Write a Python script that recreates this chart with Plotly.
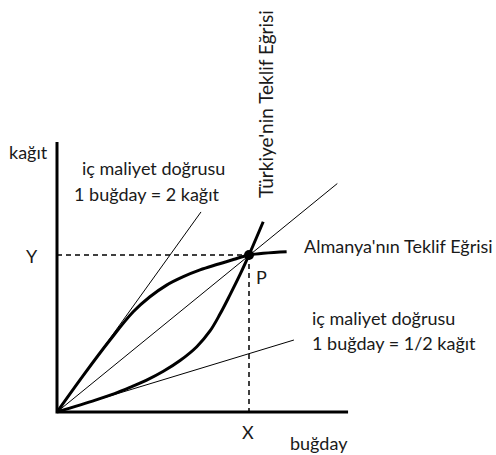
import plotly.graph_objects as go

# offer curves (units: X point = 10)
almanya_x = [0, 1.4, 2.76, 3.97, 4.84, 5.71, 6.58, 7.45, 8.32, 9.18, 10.0, 11.96]
almanya_y = [0, 1.95, 3.75, 5.22, 6.0, 6.61, 7.05, 7.40, 7.68, 7.94, 8.18, 8.35]
turkiye_x = [0, 2.0, 3.0, 3.8, 4.67, 5.54, 6.41, 7.28, 7.97, 8.49, 9.01, 9.53, 10.0, 10.74]
turkiye_y = [0, 0.62, 0.96, 1.28, 1.66, 2.12, 2.68, 3.40, 4.22, 5.10, 6.10, 7.15, 8.18, 9.91]

# straight lines through the origin: end points
steep_line = [(0, 0), (7.5, 10.42)]     # 1 buğday = 2 kağıt
trade_line = [(0, 0), (14.6, 11.9)]     # through P
gentle_line = [(0, 0), (12.34, 3.75)]   # 1 buğday = 1/2 kağıt

# equilibrium point and axes
p_x, p_y = 10.0, 8.18
x_axis_end = 15.16
y_axis_end = 14.06

FONT = "Lato"
TXT = "#1a1a1a"

fig = go.Figure()

def line(pts, width, dash=None):
    xs, ys = zip(*pts)
    fig.add_trace(go.Scatter(x=xs, y=ys, mode="lines",
                             line=dict(color="black", width=width, dash=dash),
                             hoverinfo="skip", showlegend=False))

# thin cost / terms-of-trade lines
line(steep_line, 1)
line(trade_line, 1)
line(gentle_line, 1)

# dashed guides to P
line([(0, p_y), (p_x, p_y)], 1.5, "5px,4px")
line([(p_x, p_y), (p_x, 0)], 1.5, "5px,4px")

# offer curves
fig.add_trace(go.Scatter(x=almanya_x, y=almanya_y, mode="lines",
                         line=dict(color="black", width=3, shape="spline"),
                         hoverinfo="skip", showlegend=False))
fig.add_trace(go.Scatter(x=turkiye_x, y=turkiye_y, mode="lines",
                         line=dict(color="black", width=3, shape="spline"),
                         hoverinfo="skip", showlegend=False))

# axes
line([(0, y_axis_end), (0, 0), (x_axis_end, 0)], 3)

# point P
fig.add_trace(go.Scatter(x=[p_x], y=[p_y], mode="markers",
                         marker=dict(color="black", size=10),
                         hoverinfo="skip", showlegend=False))

labels = [
    ("kağıt", -1.46, 13.54, "center", 0),
    ("iç maliyet doğrusu", 5.0, 12.71, "center", 0),
    ("1 buğday = 2 kağıt", 4.69, 11.35, "center", 0),
    ("Y", -1.30, 8.13, "center", 0),
    ("Türkiye'nin Teklif Eğrisi", 10.83, 16.04, "center", -90),
    ("Almanya'nın Teklif Eğrisi", 12.76, 8.65, "left", 0),
    ("P", 10.63, 7.03, "center", 0),
    ("iç maliyet doğrusu", 13.18, 4.90, "left", 0),
    ("1 buğday = 1/2 kağıt", 13.18, 3.59, "left", 0),
    ("X", 9.95, -1.04, "center", 0),
    ("buğday", 13.65, -1.61, "center", 0),
]
for text, x, y, anchor, angle in labels:
    size = 19 if angle else 18
    fig.add_annotation(x=x, y=y, text=text, showarrow=False, xanchor=anchor,
                       yanchor="middle", textangle=angle,
                       font=dict(family=FONT, size=size, color=TXT))

fig.update_layout(
    width=496, height=455, autosize=False,
    margin=dict(l=0, r=0, t=0, b=0),
    paper_bgcolor="white", plot_bgcolor="white",
    xaxis=dict(range=[-57 / 19.2, 439 / 19.2], visible=False, fixedrange=True),
    yaxis=dict(range=[-43 / 19.2, 412 / 19.2], visible=False, fixedrange=True),
)

fig.write_html("out.html", config={"displayModeBar": False},
               post_script="document.body.style.margin='0';")
